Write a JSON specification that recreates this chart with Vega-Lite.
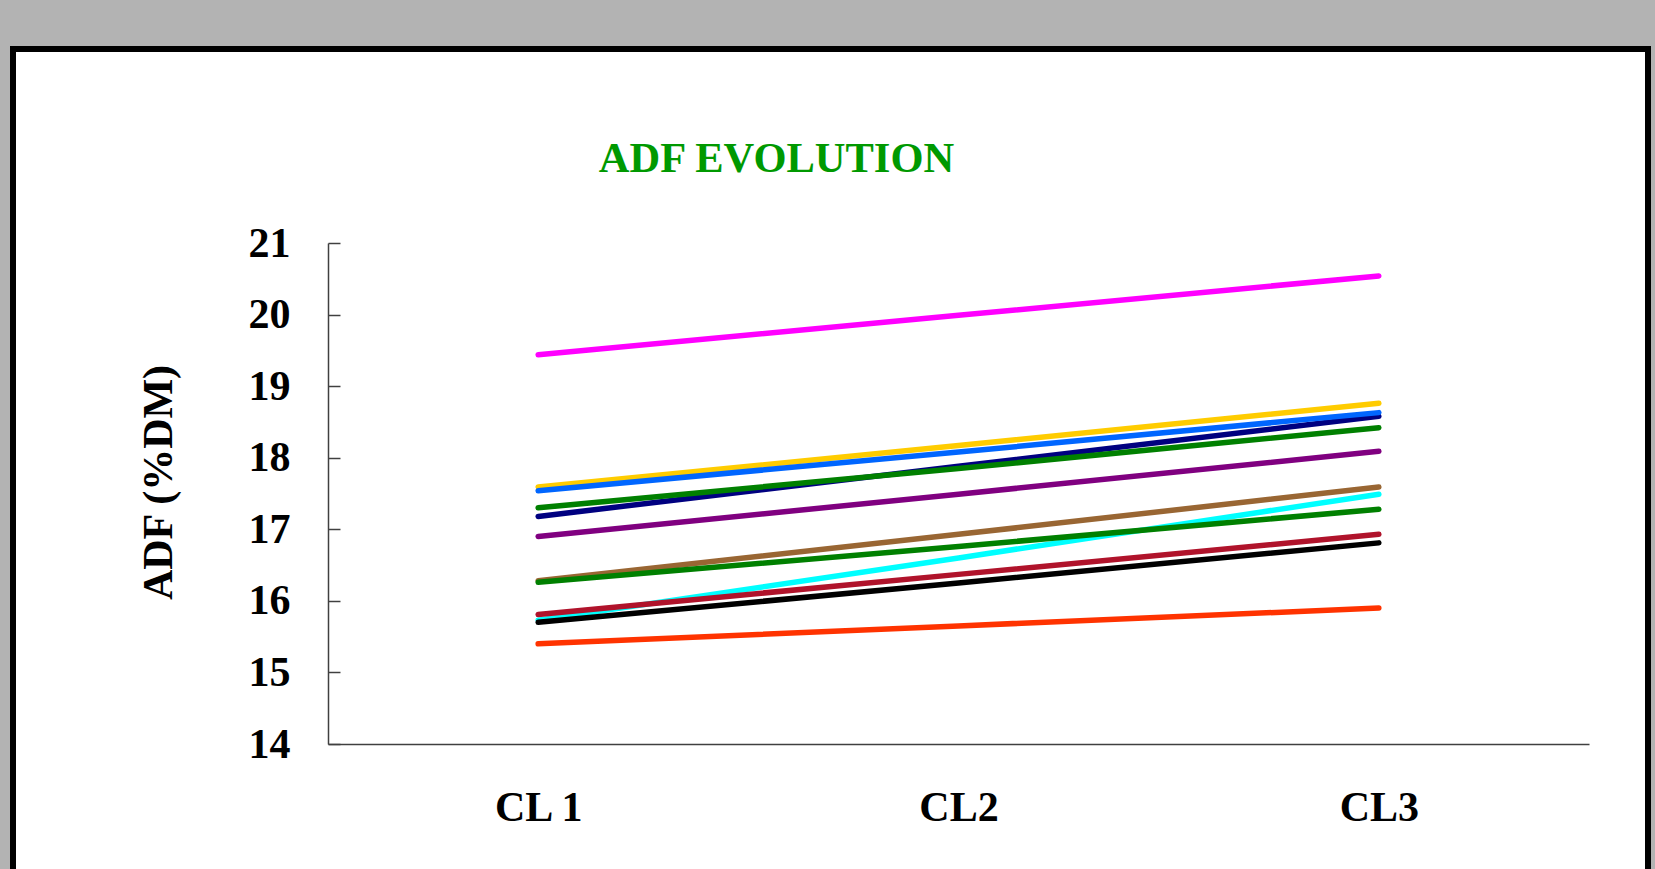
{
  "$schema": "https://vega.github.io/schema/vega-lite/v6.json",
  "width": 1635,
  "height": 825,
  "autosize": {"type": "none"},
  "padding": {"left": 13, "top": 49, "right": 7, "bottom": -5},
  "background": "#b3b3b3",
  "view": {"fill": "white", "stroke": "black", "strokeWidth": 6},
  "title": {
    "text": "ADF EVOLUTION",
    "anchor": "middle",
    "frame": "group",
    "offset": 0,
    "dx": -54,
    "dy": 165,
    "baseline": "alphabetic",
    "font": "Liberation Serif",
    "fontSize": 42.5,
    "fontWeight": "bold",
    "color": "#009900"
  },
  "data": {
    "values": [
      {"series": "S01", "cl": "CL 1", "adf": 15.73},
      {"series": "S01", "cl": "CL2", "adf": 16.60},
      {"series": "S01", "cl": "CL3", "adf": 17.49},
      {"series": "S02", "cl": "CL 1", "adf": 17.59},
      {"series": "S02", "cl": "CL2", "adf": 18.17},
      {"series": "S02", "cl": "CL3", "adf": 18.76},
      {"series": "S03", "cl": "CL 1", "adf": 16.28},
      {"series": "S03", "cl": "CL2", "adf": 16.93},
      {"series": "S03", "cl": "CL3", "adf": 17.59},
      {"series": "S04", "cl": "CL 1", "adf": 17.18},
      {"series": "S04", "cl": "CL2", "adf": 17.88},
      {"series": "S04", "cl": "CL3", "adf": 18.58},
      {"series": "S05", "cl": "CL 1", "adf": 19.44},
      {"series": "S05", "cl": "CL2", "adf": 19.99},
      {"series": "S05", "cl": "CL3", "adf": 20.54},
      {"series": "S06", "cl": "CL 1", "adf": 17.54},
      {"series": "S06", "cl": "CL2", "adf": 18.08},
      {"series": "S06", "cl": "CL3", "adf": 18.63},
      {"series": "S07", "cl": "CL 1", "adf": 17.30},
      {"series": "S07", "cl": "CL2", "adf": 17.85},
      {"series": "S07", "cl": "CL3", "adf": 18.42},
      {"series": "S08", "cl": "CL 1", "adf": 16.90},
      {"series": "S08", "cl": "CL2", "adf": 17.49},
      {"series": "S08", "cl": "CL3", "adf": 18.09},
      {"series": "S09", "cl": "CL 1", "adf": 16.26},
      {"series": "S09", "cl": "CL2", "adf": 16.76},
      {"series": "S09", "cl": "CL3", "adf": 17.28},
      {"series": "S10", "cl": "CL 1", "adf": 15.81},
      {"series": "S10", "cl": "CL2", "adf": 16.37},
      {"series": "S10", "cl": "CL3", "adf": 16.93},
      {"series": "S11", "cl": "CL 1", "adf": 15.70},
      {"series": "S11", "cl": "CL2", "adf": 16.25},
      {"series": "S11", "cl": "CL3", "adf": 16.81},
      {"series": "S12", "cl": "CL 1", "adf": 15.40},
      {"series": "S12", "cl": "CL2", "adf": 15.65},
      {"series": "S12", "cl": "CL3", "adf": 15.90}
    ]
  },
  "mark": {"type": "line", "strokeWidth": 5.5, "strokeCap": "round", "strokeJoin": "round"},
  "encoding": {
    "x": {
      "field": "cl",
      "type": "ordinal",
      "sort": ["CL 1", "CL2", "CL3"],
      "scale": {"type": "point", "padding": 0.5, "range": [315, 1576]},
      "axis": {
        "orient": "bottom",
        "offset": -130,
        "ticks": false,
        "grid": false,
        "title": null,
        "domainColor": "#404040",
        "domainWidth": 1.5,
        "labelAngle": 0,
        "labelFont": "Liberation Serif",
        "labelFontSize": 42,
        "labelFontWeight": "bold",
        "labelColor": "black",
        "labelPadding": 43
      }
    },
    "y": {
      "field": "adf",
      "type": "quantitative",
      "scale": {"domain": [14, 21], "range": [695, 194], "zero": false, "nice": false},
      "axis": {
        "orient": "left",
        "offset": -315,
        "values": [14, 15, 16, 17, 18, 19, 20, 21],
        "grid": false,
        "tickSize": -12,
        "tickColor": "#404040",
        "tickWidth": 1.5,
        "domainColor": "#404040",
        "domainWidth": 1.5,
        "labelFont": "Liberation Serif",
        "labelFontSize": 42,
        "labelFontWeight": "bold",
        "labelColor": "black",
        "labelPadding": 50,
        "title": "ADF (%DM)",
        "titleX": -170,
        "titleY": 433,
        "titleAngle": -90,
        "titleAlign": "center",
        "titleBaseline": "middle",
        "titleFont": "Liberation Serif",
        "titleFontSize": 42,
        "titleFontWeight": "bold",
        "titleColor": "black"
      }
    },
    "color": {
      "field": "series",
      "type": "nominal",
      "sort": null,
      "scale": {
        "domain": ["S01", "S02", "S03", "S04", "S05", "S06", "S07", "S08", "S09", "S10", "S11", "S12"],
        "range": ["#00FFFF", "#FFCC00", "#996633", "#000080", "#FF00FF", "#0066FF", "#008000", "#800080", "#008000", "#B0132B", "#000000", "#FF3300"]
      },
      "legend": null
    }
  }
}
